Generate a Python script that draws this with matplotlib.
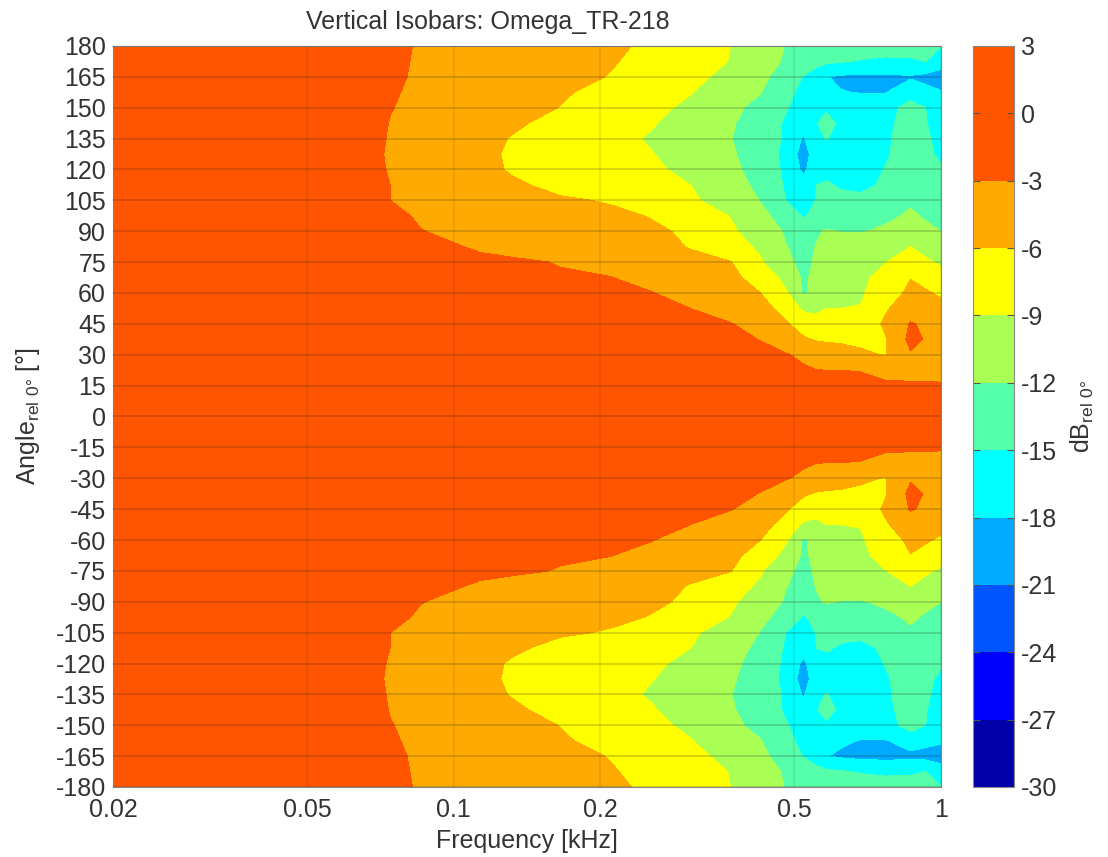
import numpy as np
import matplotlib
matplotlib.use('Agg')
import matplotlib.pyplot as plt
from matplotlib.colors import ListedColormap, BoundaryNorm

plt.rcParams['font.family'] = ['Liberation Sans', 'DejaVu Sans']
plt.rcParams['mathtext.fontset'] = 'custom'
plt.rcParams['mathtext.rm'] = 'Liberation Sans'
plt.rcParams['mathtext.default'] = 'rm'
plt.rcParams['axes.unicode_minus'] = False

freq = [0.02, 0.0674, 0.0741, 0.0854, 0.1134, 0.1307, 0.1656, 0.2096, 0.2534, 0.306, 0.370,
        0.426, 0.480, 0.522, 0.555, 0.582, 0.622, 0.684, 0.769, 0.866, 0.930, 1.0]

# angle readings from 180 down to 0, dB at each freq
angle_upper = [180, 172.5, 165, 157.5, 150, 142.5, 135, 127.5, 120, 112.5, 105, 97.5, 90,
               82.5, 75, 67.5, 60, 52.5, 45, 37.5, 30, 22.5, 15, 7.5, 0]
db_upper = [
    [1, -1.5, -2.2, -3.3, -4, -4.3, -4.8, -5.6, -6.4, -7.6, -9, -10.7, -12.1, -12.6, -13, -13.2, -13.4, -13.6, -13.8, -14, -14.4, -15],
    [1, -1.5, -2.3, -3.4, -4.1, -4.4, -5, -5.8, -6.8, -7.9, -9.1, -10.8, -12.3, -13.5, -14.2, -14.5, -14.8, -15.2, -15.5, -15.3, -15, -16.5],
    [1, -1.6, -2.4, -3.5, -4.3, -4.7, -5.3, -6.1, -7.2, -8.4, -9.7, -11.3, -13.4, -15.1, -16.3, -17.9, -18.4, -18.5, -18.5, -18.3, -18.8, -19.5],
    [1, -1.7, -2.7, -3.6, -4.5, -5, -5.8, -6.6, -8, -8.9, -10.6, -11.9, -14.2, -15.8, -16.5, -17.4, -17.9, -18.1, -18.1, -16.2, -17.2, -17.8],
    [1, -1.9, -2.9, -3.7, -4.7, -5.2, -6.05, -7.2, -8.4, -9.5, -11.4, -12.8, -14.8, -16, -15.6, -15.3, -15.5, -16.5, -16, -14, -15, -16.2],
    [1.2, -2, -3.1, -3.8, -5, -5.5, -7, -8, -8.8, -10, -11.7, -13.5, -15.3, -17, -15.1, -14.3, -15.4, -16, -15.6, -13.9, -14.9, -16],
    [1.2, -2.3, -3.2, -3.9, -5.2, -6.1, -7.4, -8.4, -9.2, -10.2, -11.9, -13.7, -15.3, -18.3, -15.6, -14.9, -15.8, -16.4, -15.4, -13.7, -14.6, -15.8],
    [1.2, -2.4, -3.3, -4, -5.4, -6.3, -7.5, -8.3, -8.9, -10, -11.6, -13.7, -15.6, -19.5, -16.2, -16.1, -16.3, -16.4, -15.3, -13.7, -14.3, -15.6],
    [1.2, -2.3, -3.2, -4, -5.3, -6.2, -7.3, -8, -8.6, -9.6, -11.3, -13.3, -15.5, -18.6, -16.2, -15.8, -16, -16.2, -14.9, -13.6, -14, -14.7],
    [1.2, -2.2, -3, -3.8, -4.9, -5.6, -6.7, -7.4, -8, -9, -10.7, -12.8, -15.3, -17, -15, -14.7, -15.3, -15.6, -14.6, -13.4, -13.6, -14.2],
    [1.2, -2.2, -3, -3.6, -4.5, -5, -5.7, -6.2, -7, -8.6, -10.3, -12.1, -15, -16, -14.9, -14.2, -14.3, -14.4, -13.6, -12.4, -13, -13.6],
    [1, -2, -2.6, -3.2, -4, -4.4, -5, -5.5, -6.1, -7.7, -9.1, -11.4, -13, -15.3, -14.2, -13.4, -13.1, -13, -12.6, -11.6, -12.3, -12.8],
    [1, -1.8, -2.2, -2.95, -3.6, -4, -4.6, -5, -5.6, -6.4, -8.6, -10.4, -12.3, -13.3, -12.3, -11.8, -12.1, -12.2, -11.5, -10.8, -11.4, -12],
    [1, -1.5, -1.9, -2.3, -3.3, -3.6, -4.2, -4.7, -5.4, -6.1, -7.8, -9.5, -11.9, -12.9, -11.9, -11.3, -10.9, -10.5, -9.9, -9, -9.9, -10.4],
    [1, -1.3, -1.6, -2, -2.5, -2.7, -3.1, -3.7, -4.7, -5.5, -5.9, -8.7, -11.5, -12.6, -11.7, -11, -10.6, -10.1, -9.1, -7.6, -8.6, -9.4],
    [1, -1.1, -1.4, -1.7, -2.3, -2.5, -2.8, -2.95, -3.7, -4.7, -5.3, -7.2, -9.9, -12.4, -11.4, -10.8, -10.3, -9.6, -8, -6.1, -6.9, -8.1],
    [1, -0.9, -1.1, -1.4, -1.8, -2, -2.3, -2.6, -2.9, -3.9, -5, -6, -8.6, -12.4, -11, -10.5, -10, -9.3, -7.5, -5.3, -5.7, -6.4],
    [1, -0.7, -0.9, -1.1, -1.4, -1.5, -1.8, -2.1, -2.4, -3, -4.1, -5.1, -6.9, -9.5, -9.6, -9, -9, -8.9, -6.3, -4.4, -4.6, -5.2],
    [1, -0.6, -0.7, -0.9, -1.1, -1.2, -1.4, -1.7, -2, -2.4, -2.9, -4, -5.7, -7.2, -8, -7.6, -7.7, -7.6, -5.6, -2.8, -3.4, -4.3],
    [1, -0.5, -0.6, -0.7, -0.9, -1, -1.1, -1.3, -1.6, -1.9, -2.2, -3.1, -4.5, -5.7, -6.2, -6.3, -6.3, -6.4, -6.2, -2.2, -3.2, -4],
    [1, -0.4, -0.5, -0.6, -0.8, -0.8, -0.9, -1, -1.2, -1.4, -1.7, -2.1, -2.8, -3.6, -4.4, -4.8, -5.2, -5.7, -6.1, -3.3, -3.7, -4.1],
    [1, -0.3, -0.3, -0.4, -0.5, -0.5, -0.6, -0.7, -0.8, -1, -1.2, -1.5, -2, -2.6, -2.95, -3, -3, -3.1, -3.4, -3.5, -3.5, -3.7],
    [1, -0.2, -0.2, -0.2, -0.3, -0.3, -0.4, -0.4, -0.5, -0.6, -0.7, -0.9, -1.1, -1.4, -1.6, -1.7, -1.9, -2.2, -2.8, -2.8, -2.8, -2.8],
    [1, 0, 0, 0, -0.1, -0.1, -0.1, -0.2, -0.2, -0.2, -0.3, -0.3, -0.4, -0.5, -0.6, -0.6, -0.7, -0.8, -1, -1, -1, -1.1],
    [1, 0, 0, 0, 0, 0, 0, 0, 0, 0, 0, 0, 0, 0, 0, 0, 0, 0, 0, 0, 0, 0],
]
# the lower half differs from the upper one only in the deep band
db_lower_165 = [1, -1.6, -2.4, -3.5, -4.3, -4.7, -5.3, -6.1, -7.2, -8.4, -9.7, -11.3, -13.4, -15.1, -16.3, -17.9, -18.4, -18.8, -18.9, -18.8, -19, -19.5]
db_lower_157 = [1, -1.7, -2.7, -3.6, -4.5, -5, -5.8, -6.6, -8, -8.9, -10.6, -11.9, -14.2, -15.8, -16.5, -16.9, -17.6, -18.1, -18.2, -16.4, -17.2, -17.6]

levels = [-30, -27, -24, -21, -18, -15, -12, -9, -6, -3, 3]
colors = ['#0000AA', '#0000FF', '#0055FF', '#00AAFF', '#00FFFF', '#55FFAA',
          '#AAFF55', '#FFFF00', '#FFAA00', '#FF5500']
x_ticks = [0.02, 0.05, 0.1, 0.2, 0.5, 1]
x_ticklabels = ['0.02', '0.05', '0.1', '0.2', '0.5', '1']
y_ticks = list(range(-180, 181, 15))
cbar_ticks = list(range(-30, 4, 3))

db_lower = [list(r) for r in db_upper[-2::-1]]
db_lower[-3] = db_lower_165
db_lower[-4] = db_lower_157
angle = np.array(angle_upper + [-a for a in angle_upper[-2::-1]])
db = np.array(db_upper + db_lower)

fig = plt.figure(figsize=(11.08, 8.57), dpi=100)
ax = fig.add_axes([113 / 1108, 1 - 787 / 857, 828 / 1108, 741 / 857])
cax = fig.add_axes([973 / 1108, 1 - 787 / 857, 41 / 1108, 741 / 857])

cmap = ListedColormap(colors)
norm = BoundaryNorm(levels, cmap.N)
cf = ax.contourf(freq, angle, db, levels=levels, cmap=cmap, norm=norm)

ax.set_xscale('log')
ax.set_xlim(0.02, 1)
ax.set_ylim(-180, 180)
ax.set_xticks(x_ticks)
ax.set_xticklabels(x_ticklabels)
ax.minorticks_off()
ax.set_yticks(y_ticks)
ax.grid(True, axis='y', color='#222222', alpha=0.22, linewidth=1.2)
ax.grid(True, axis='x', color='#222222', alpha=0.1, linewidth=1.2)
ax.set_axisbelow(False)
ax.tick_params(length=0, labelsize=18, colors='#333333')
ax.tick_params(axis='y', pad=5)
ax.tick_params(axis='x', pad=8)
for s in ax.spines.values():
    s.set_color('#888888')
    s.set_linewidth(0.8)

ax.set_title('Vertical Isobars: Omega_TR-218', fontsize=18, color='#333333', pad=12, x=0.453)
ax.set_xlabel('Frequency [kHz]', fontsize=18, color='#333333', labelpad=5)
ax.set_ylabel(r'Angle$_{rel\ 0°}$ [°]', fontsize=18, color='#333333', labelpad=10)

cb = fig.colorbar(cf, cax=cax, ticks=cbar_ticks, spacing='proportional')
cb.ax.tick_params(direction='in', length=5, width=0.8, left=True, right=True,
                  color='#555555', labelsize=18, labelcolor='#333333', pad=5)
cb.ax.set_yticklabels([str(t) for t in cbar_ticks])
cb.outline.set_edgecolor('#888888')
cb.set_label(r'dB$_{rel\ 0°}$', fontsize=18, color='#333333', labelpad=8)

fig.savefig('out.png', dpi=100)
plt.close('all')
